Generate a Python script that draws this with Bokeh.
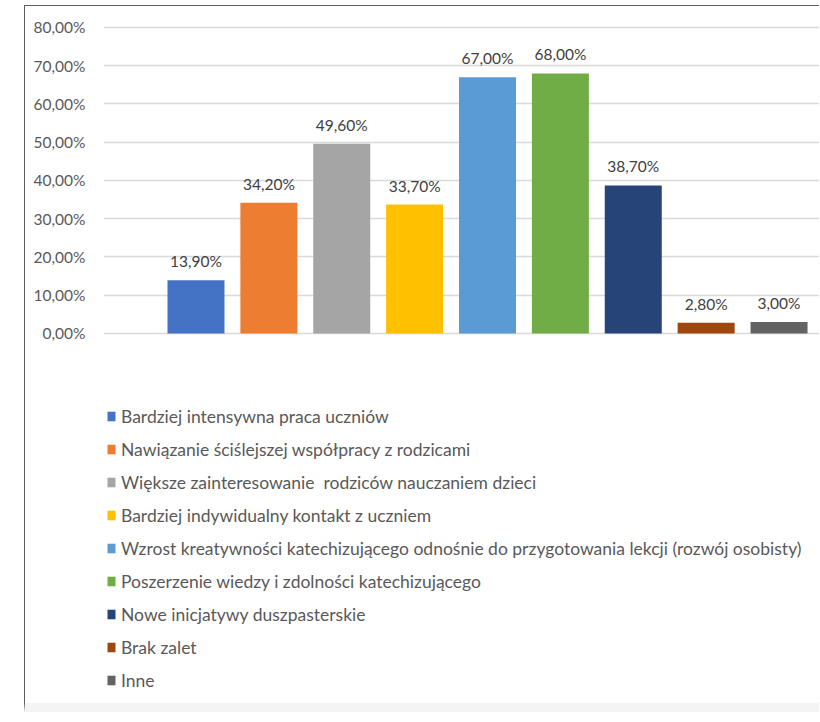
from bokeh.plotting import figure
from bokeh.models import ColumnDataSource, Range1d, FixedTicker, Legend, LegendItem, CustomJSTickFormatter
from bokeh.core.properties import value
from bokeh.embed import file_html
from bokeh.resources import INLINE

categories = [
    "Bardziej intensywna praca uczniów",
    "Nawiązanie ściślejszej współpracy z rodzicami",
    "Większe zainteresowanie  rodziców nauczaniem dzieci",
    "Bardziej indywidualny kontakt z uczniem",
    "Wzrost kreatywności katechizującego odnośnie do przygotowania lekcji (rozwój osobisty)",
    "Poszerzenie wiedzy i zdolności katechizującego",
    "Nowe inicjatywy duszpasterskie",
    "Brak zalet",
    "Inne",
]
values = [13.9, 34.2, 49.6, 33.7, 67.0, 68.0, 38.7, 2.8, 3.0]
labels = ["13,90%", "34,20%", "49,60%", "33,70%", "67,00%", "68,00%", "38,70%", "2,80%", "3,00%"]
colors = ["#4472C4", "#ED7D31", "#A5A5A5", "#FFC000", "#5B9BD5", "#70AD47", "#264478", "#9E480E", "#636363"]
y_ticks = [0, 10, 20, 30, 40, 50, 60, 70, 80]

FONT = "Lato"

src = ColumnDataSource(dict(
    x=list(range(1, len(values) + 1)),
    top=values,
    label=labels,
    color=colors,
    cat=categories,
))

p = figure(
    width=795, height=707,
    output_backend="svg", toolbar_location=None,
    x_range=Range1d(-0.2689, 9.569),
    y_range=Range1d(-99.35, 85.49),
    min_border_left=78, min_border_right=0, min_border_top=0, min_border_bottom=0,
)
p.styles = {
    "margin-left": "24px",
    "margin-top": "4.5px",
    "border-left": "1.5px solid #5f5f5f",
    "border-top": "1.5px solid #5f5f5f",
    "border-bottom": "9px solid #f4f4f4",
}
p.outline_line_color = None
p.background_fill_color = "white"
p.border_fill_color = "white"

r = p.vbar(x="x", top="top", width=0.782, bottom=0, source=src,
           fill_color="color", line_color=None)

p.text(x="x", y="top", text="label", source=src,
       text_align="center", text_baseline="bottom", y_offset=-10,
       text_font=value(FONT), text_font_size="15.5px", text_color="#404040")

p.xaxis.visible = False
p.xgrid.visible = False
p.yaxis.ticker = FixedTicker(ticks=y_ticks)
p.yaxis.formatter = CustomJSTickFormatter(code="return tick.toFixed(2).replace('.', ',') + '%';")
p.yaxis.axis_line_color = None
p.yaxis.major_tick_line_color = None
p.yaxis.minor_tick_line_color = None
p.yaxis.major_tick_out = 0
p.yaxis.major_tick_in = 0
p.yaxis.major_label_standoff = 18
p.yaxis.major_label_text_font = FONT
p.yaxis.major_label_text_font_size = "15.5px"
p.yaxis.major_label_text_color = "#595959"
p.ygrid.ticker = FixedTicker(ticks=y_ticks)
p.ygrid.grid_line_color = "#D9D9D9"
p.ygrid.grid_line_width = 1.5

items = [LegendItem(label=c, renderers=[r], index=i) for i, c in enumerate(categories)]
legend = Legend(
    items=items,
    location=(3, 22),
    orientation="vertical",
    glyph_width=10, glyph_height=12,
    label_standoff=5,
    label_height=20,
    spacing=12,
    padding=0, margin=0,
    border_line_color=None,
    background_fill_alpha=0,
    label_text_font=FONT,
    label_text_font_size="17.5px",
    label_text_color="#595959",
)
p.add_layout(legend)

open("out.html", "w").write(file_html(p, INLINE))
